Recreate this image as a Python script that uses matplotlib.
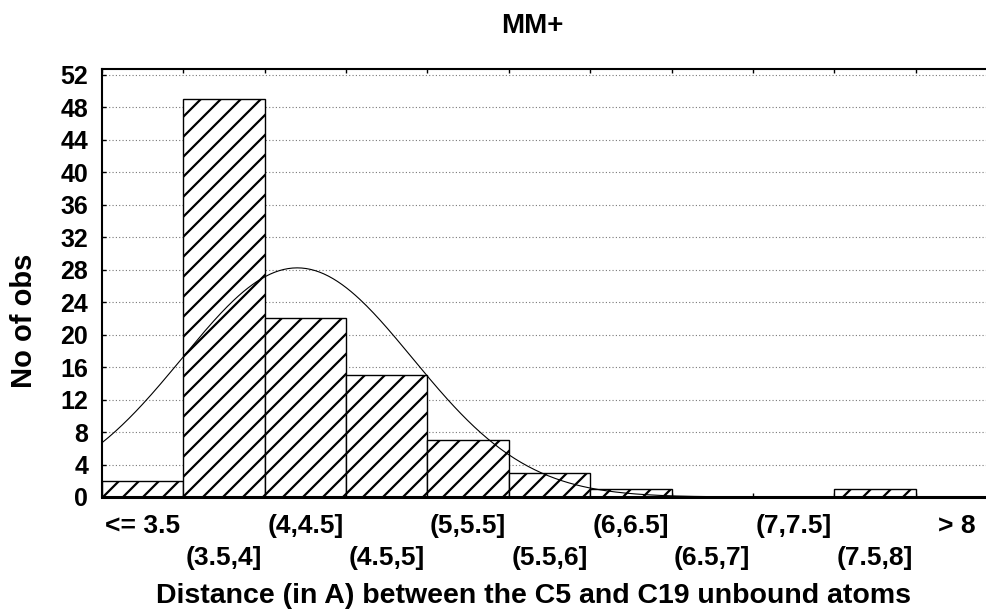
import matplotlib
matplotlib.use("Agg")
import matplotlib.pyplot as plt
import numpy as np

# histogram counts per distance class
bins = ["<= 3.5", "(3.5,4]", "(4,4.5]", "(4.5,5]", "(5,5.5]", "(5.5,6]",
        "(6,6.5]", "(6.5,7]", "(7,7.5]", "(7.5,8]", "> 8"]
counts = [2, 49, 22, 15, 7, 3, 1, 0, 0, 1, 0]
yticks = list(range(0, 53, 4))

# fitted normal curve
mu = 4.2
sigma = 0.707
x_start = 3.0
bin_w = 0.5

# the dpi sets the hatch spacing; sizes are scaled back by k
DPI = 120
k = 100 / DPI

plt.rcParams['font.family'] = ['Liberation Sans', 'DejaVu Sans']
plt.rcParams['font.weight'] = 'bold'
plt.rcParams['hatch.linewidth'] = 1.6 * k

fig = plt.figure(figsize=(986 / DPI, 616 / DPI), dpi=DPI)
ax = fig.add_axes([102/986, 119/616, 895/986, 428/616])

idx = np.arange(len(bins))
ax.bar(idx, counts, width=1.0, align='edge', color='white',
       edgecolor='black', linewidth=1.0 * k, hatch='//', zorder=2)

# normal curve expressed in bin-index coordinates
n = sum(counts)
xs = np.linspace(x_start, x_start + bin_w * len(bins), 400)
ys = n * bin_w / (sigma * np.sqrt(2 * np.pi)) * np.exp(-0.5 * ((xs - mu) / sigma) ** 2)
ax.plot((xs - x_start) / bin_w, ys, color='black', linewidth=0.8 * k, zorder=3)

ax.set_xlim(0, len(bins))
ax.set_ylim(0, 52.7)
ax.set_yticks(yticks)
ax.set_yticklabels([str(t) for t in yticks], fontsize=18 * k, fontweight='bold')
ax.yaxis.grid(True, linestyle=(0, (1, 2)), color='#777777', linewidth=0.8 * k, zorder=0)
ax.set_axisbelow(True)

# staggered x labels at bin centres, bin edges get small inward ticks
ax.set_xticks(idx + 0.5)
labs = [b if i % 2 == 0 else "\n" + b for i, b in enumerate(bins)]
ax.set_xticklabels(labs, fontsize=19 * k, fontweight='bold', linespacing=1.46)
ax.tick_params(axis='x', which='major', length=0, pad=12 * k)
ax.set_xticks(np.arange(len(bins) + 1), minor=True)
ax.tick_params(axis='x', which='minor', direction='in', length=3 * k,
               width=1.0 * k, top=True, bottom=True)
ax.tick_params(axis='y', direction='in', length=3 * k, width=1.0 * k, pad=10 * k)

for s in ['left', 'top']:
    ax.spines[s].set_linewidth(1.5 * k)
ax.spines['bottom'].set_linewidth(2.2 * k)
ax.spines['right'].set_visible(False)

fig.text(24/986, 1 - 321/616, "No of obs", fontsize=21 * k, fontweight='bold',
         rotation=90, ha='center', va='center')
fig.text(533/986, 1 - 596/616, "Distance (in A) between the C5 and C19 unbound atoms",
         fontsize=20.5 * k, fontweight='bold', ha='center', va='center')
fig.text(532/986, 1 - 26/616, "MM+", fontsize=20 * k, fontweight='bold',
         ha='center', va='center')

fig.savefig("out.png", dpi=DPI)
